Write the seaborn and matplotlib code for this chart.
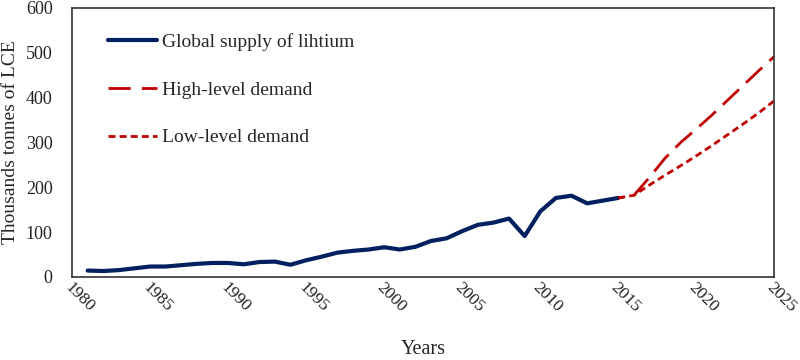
import matplotlib
matplotlib.use("Agg")
import matplotlib.pyplot as plt
import matplotlib.transforms as mtransforms
import seaborn as sns
import pandas as pd

supply_years = list(range(1981, 2016))
supply = [14, 13, 15, 19, 23, 23, 26, 29, 31, 31, 28, 33, 34, 27, 37, 45, 54, 58, 61, 66, 61, 67, 80, 86, 102,
          116, 121, 130, 91, 146, 176, 181, 164, 170, 176]

demand_years = list(range(2015, 2026))
high_demand = [176, 182, 222, 265, 300, 330, 361, 394, 427, 460, 492]
low_demand = [176, 182, 205, 227, 248, 270, 293, 317, 341, 366, 393]

x_ticks = list(range(1980, 2026, 5))
y_ticks = list(range(0, 601, 100))

sns.set_theme(style="white")
plt.rcParams['font.family'] = ['Liberation Serif', 'DejaVu Serif']

fig = plt.figure(figsize=(8, 3.6), dpi=100)
ax = fig.add_axes([0.09, 0.231, 0.878, 0.747])

navy = "#002060"
red = "#C00000"

sns.lineplot(x=supply_years, y=supply, ax=ax, color=navy, linewidth=3.0,
             label="Global supply of lihtium")
sns.lineplot(x=demand_years, y=high_demand, ax=ax, color=red, linewidth=2.0,
             label="High-level demand")
sns.lineplot(x=demand_years, y=low_demand, ax=ax, color=red, linewidth=2.0,
             label="Low-level demand")
lines = ax.get_lines()
lines[1].set_linestyle((6, (8, 3.5)))
lines[2].set_linestyle((0, (2.5, 1.5)))

ax.set_xlim(1980, 2025)
ax.set_ylim(0, 600)
ax.set_xticks(x_ticks)
ax.set_yticks(y_ticks)
ax.tick_params(axis='both', length=0, labelsize=13, colors='#222222')
ax.tick_params(axis='x', labelsize=12.5, pad=6)
ax.tick_params(axis='y', pad=14)
shift = mtransforms.ScaledTranslation(-5 / 100, 0, fig.dpi_scale_trans)
for lab in ax.get_xticklabels():
    lab.set_rotation(-45)
    lab.set_ha('left')
    lab.set_va('center')
    lab.set_rotation_mode('anchor')
    lab.set_transform(lab.get_transform() + shift)

for s in ax.spines.values():
    s.set_color('#333333')
    s.set_linewidth(1.2)

ax.set_xlabel("Years", fontsize=14.5)
ax.xaxis.set_label_coords(0.5, -0.235)
ax.set_ylabel("Thousands tonnes of LCE", fontsize=14)
ax.yaxis.set_label_coords(-0.087, 0.5)
ax.yaxis.label.set_va('center')

leg = ax.legend(loc='upper left', bbox_to_anchor=(0.035, 0.95), frameon=False,
                fontsize=14, labelspacing=1.55, handlelength=2.5, handletextpad=0.25,
                borderaxespad=0.2)
leg_lines = leg.get_lines()
leg_lines[1].set_linestyle((0, (8, 4)))
leg_lines[2].set_linestyle((0, (2.5, 1.5)))

fig.savefig("out.png", dpi=100)
